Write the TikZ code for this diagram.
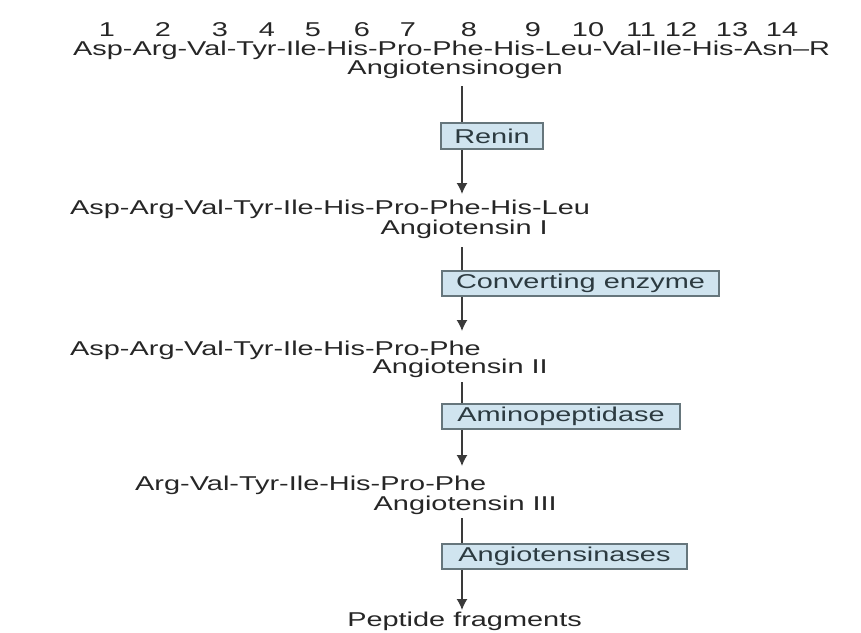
\documentclass[tikz,border=0pt]{standalone}
\usepackage{fontspec}
\setmainfont[FakeStretch=1.445]{Liberation Sans}
\usetikzlibrary{arrows.meta}
\definecolor{txt}{HTML}{262626}
\definecolor{boxfill}{HTML}{D0E4EF}
\definecolor{boxline}{HTML}{66767C}
\definecolor{boxtxt}{HTML}{2C3A40}
\definecolor{arrcol}{HTML}{3A3A3A}
\begin{document}
\begin{tikzpicture}[x=1pt,y=-1pt,
  lbl/.style={inner sep=0pt,text=txt,font=\fontsize{20}{24}\selectfont},
  num/.style={lbl,anchor=base},
  seqw/.style={lbl,anchor=base west},
  seqe/.style={lbl,anchor=base east},
  enzbox/.style={draw=boxline,line width=1.4pt,fill=boxfill,inner sep=0pt,
     text=boxtxt,font=\fontsize{20}{24}\selectfont},
  arr/.style={draw=arrcol,line width=1.5pt,-{Latex[length=11pt,width=11pt]}}]
\useasboundingbox (0,0) rectangle (861,632);
% residue numbers
\foreach \n/\x in {1/107,2/163,3/220,4/267,5/313,6/362,7/408,8/469,9/533,10/588,11/641,12/681,13/732,14/782}
  \node[num] (n\n) at (\x,36) {\n};
% sequences and names
\node[seqw] (seq0) at (73,55) {Asp-Arg-Val-Tyr-Ile-His-Pro-Phe-His-Leu-Val-Ile-His-Asn--R};
\node[seqe] (ang0) at (563,74) {Angiotensinogen};
\node[seqw] (seq1) at (70,214) {Asp-Arg-Val-Tyr-Ile-His-Pro-Phe-His-Leu};
\node[seqe] (ang1) at (548,234) {Angiotensin I};
\node[seqw] (seq2) at (70,355) {Asp-Arg-Val-Tyr-Ile-His-Pro-Phe};
\node[seqe] (ang2) at (548,373) {Angiotensin II};
\node[seqw] (seq3) at (135,490) {Arg-Val-Tyr-Ile-His-Pro-Phe};
\node[seqe] (ang3) at (557,510) {Angiotensin III};
\node[seqe] (pf) at (582,626) {Peptide fragments};
% arrow end points
\coordinate (s1) at (462,86);  \coordinate (e1) at (462,194);
\coordinate (s2) at (462,247); \coordinate (e2) at (462,331);
\coordinate (s3) at (462,382); \coordinate (e3) at (462,466);
\coordinate (s4) at (462,518); \coordinate (e4) at (462,610);
\draw[arr] (s1) -- (e1);
\draw[arr] (s2) -- (e2);
\draw[arr] (s3) -- (e3);
\draw[arr] (s4) -- (e4);
% enzyme boxes
\node[enzbox,minimum width=102pt,minimum height=26pt] (enz1) at (492,136) {Renin};
\node[enzbox,minimum width=277pt,minimum height=25pt] (enz2) at (580.5,283.5) {Converting enzyme};
\node[enzbox,minimum width=238pt,minimum height=25pt] (enz3) at (561,416.5) {Aminopeptidase};
\node[enzbox,minimum width=245pt,minimum height=25pt] (enz4) at (564.5,556.5) {Angiotensinases};
\end{tikzpicture}
\end{document}
